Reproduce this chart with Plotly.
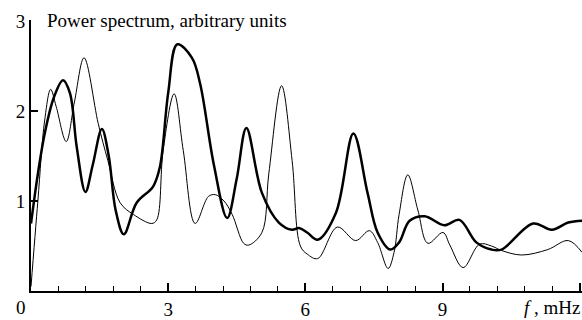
import plotly.graph_objects as go

# Frequency (mHz) and power values
thick_f = [0.0, 0.15, 0.30, 0.50, 0.70, 0.85, 1.00, 1.19, 1.35, 1.55, 1.70, 1.85, 2.03,
           2.31, 2.67, 2.82, 3.00, 3.20, 3.52, 3.70, 4.00, 4.29, 4.50, 4.71, 5.05, 5.42,
           5.71, 5.86, 6.04, 6.27, 6.67, 7.05, 7.36, 7.58, 7.86, 8.05, 8.28, 8.61, 9.04,
           9.37, 9.74, 10.07, 10.29, 10.98, 11.39, 11.75, 12.05]
thick_p = [0.75, 1.30, 1.75, 2.15, 2.34, 2.20, 1.60, 1.10, 1.40, 1.80, 1.50, 0.90, 0.63,
           0.98, 1.16, 1.38, 2.20, 2.74, 2.59, 2.30, 1.40, 0.81, 1.25, 1.81, 1.09, 0.76,
           0.68, 0.70, 0.65, 0.57, 0.87, 1.75, 1.09, 0.65, 0.46, 0.54, 0.78, 0.83, 0.73,
           0.79, 0.54, 0.46, 0.46, 0.75, 0.68, 0.76, 0.78]

thin_f = [0.0, 0.15, 0.30, 0.43, 0.55, 0.77, 0.95, 1.16, 1.47, 1.68, 1.95, 2.24, 2.64,
          2.75, 2.89, 3.13, 3.33, 3.59, 3.88, 4.03, 4.22, 4.40, 4.65, 4.76, 5.05, 5.20,
          5.48, 5.71, 5.89, 6.04, 6.27, 6.70, 7.10, 7.40, 7.58, 7.81, 7.94, 8.05, 8.24,
          8.46, 8.68, 9.01, 9.16, 9.45, 9.81, 10.07, 10.29, 10.73, 11.30, 11.75, 12.05]
thin_p = [0.05, 1.00, 1.90, 2.24, 2.05, 1.66, 2.10, 2.59, 1.86, 1.45, 0.98, 0.85, 0.75,
          0.79, 1.56, 2.19, 1.56, 0.75, 1.05, 1.07, 1.00, 0.85, 0.53, 0.51, 0.65, 1.30,
          2.28, 1.45, 0.50, 0.41, 0.36, 0.71, 0.56, 0.67, 0.54, 0.25, 0.43, 0.85, 1.29,
          0.90, 0.53, 0.65, 0.51, 0.26, 0.52, 0.50, 0.45, 0.40, 0.46, 0.56, 0.43]

x_major_step = 3
x_minor_step = 0.6
x_hidden_labels = {"0": "", "12": ""}
y_step = 1
x_range = [0, 12.05]
y_range = [0, 3.01]

FONT = "Liberation Serif"

fig = go.Figure()
fig.add_trace(go.Scatter(x=thin_f, y=thin_p, mode="lines",
                         line=dict(color="black", width=1, shape="spline", smoothing=1.0)))
fig.add_trace(go.Scatter(x=thick_f, y=thick_p, mode="lines",
                         line=dict(color="black", width=2.5, shape="spline", smoothing=1.0)))

fig.update_layout(
    width=582, height=320,
    margin=dict(l=31, r=0, t=20, b=26),
    plot_bgcolor="white",
    showlegend=False,
    xaxis=dict(range=x_range, showline=True, linecolor="black", linewidth=2,
               showgrid=False, zeroline=False,
               ticks="inside", ticklen=8, tickwidth=2, tickcolor="black",
               dtick=x_major_step, tick0=0,
               labelalias=x_hidden_labels,
               tickfont=dict(family=FONT, size=19, color="black"),
               minor=dict(ticks="inside", ticklen=5, tickwidth=1, tickcolor="black",
                          dtick=x_minor_step)),
    yaxis=dict(range=y_range, showline=True, linecolor="black", linewidth=2,
               showgrid=False, zeroline=False,
               ticks="inside", ticklen=7, tickwidth=2, tickcolor="black",
               dtick=y_step, tick0=0, labelalias={"0": ""},
               tickfont=dict(family=FONT, size=19, color="black")),
)

fig.add_annotation(x=0, y=0, xref="x", yref="y", text="0", showarrow=False,
                   xanchor="center", yanchor="top", xshift=-10, yshift=-4,
                   font=dict(family=FONT, size=19, color="black"))
fig.add_annotation(x=0.025, y=3, xref="paper", yref="y",
                   text="Power spectrum, arbitrary units", showarrow=False,
                   xanchor="left", yanchor="middle",
                   font=dict(family=FONT, size=19, color="black"))
fig.add_annotation(x=1.0, y=0, xref="paper", yref="y",
                   text="<i>f</i> , mHz", showarrow=False,
                   xanchor="right", yanchor="top", yshift=-4,
                   font=dict(family=FONT, size=19, color="black"))

fig.write_html("out.html")
